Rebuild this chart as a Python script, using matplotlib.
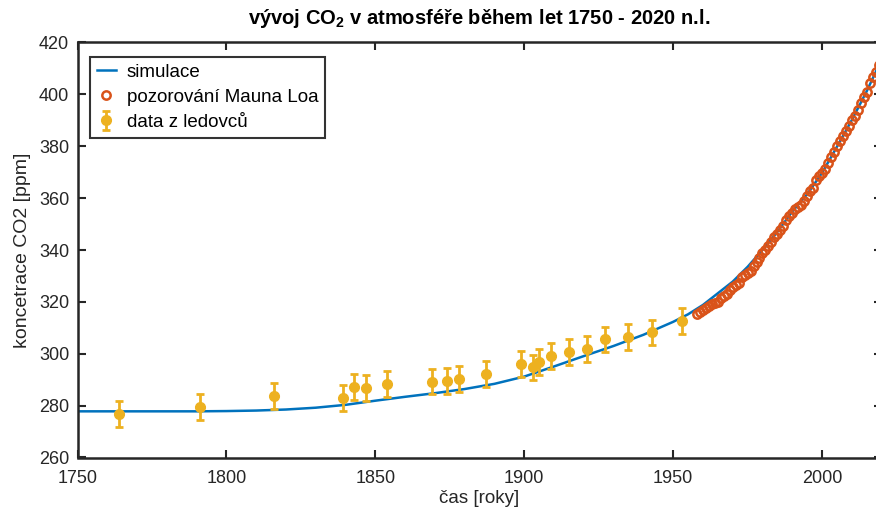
import matplotlib
matplotlib.use("Agg")
import matplotlib.pyplot as plt
from matplotlib import font_manager

# --- data -------------------------------------------------------------------
# simulated CO2 concentration [ppm]
sim_years = [1750, 1760, 1770, 1780, 1790, 1800, 1810, 1820, 1830, 1840,
             1850, 1860, 1870, 1880, 1890, 1900, 1910, 1920, 1930, 1940,
             1950, 1955, 1960, 1965, 1970, 1975, 1980, 1985, 1990, 1995,
             2000, 2005, 2010, 2015, 2020]
sim_ppm = [277.8, 277.8, 277.8, 277.8, 277.8, 277.9, 278.1, 278.5, 279.2, 280.3,
           281.9, 283.4, 284.8, 286.4, 288.4, 291.2, 295.1, 299.1, 303.0, 307.3,
           312.3, 315.2, 318.8, 323.3, 327.8, 333.5, 340.0, 347.0, 354.8, 361.5,
           369.7, 379.8, 390.1, 401.2, 413.5]

# Mauna Loa annual means [ppm]
ml_years = list(range(1958, 2020))
ml_ppm = [315.30, 315.98, 316.91, 317.64, 318.45, 318.99, 319.62, 320.04, 321.37, 322.18,
          323.05, 324.62, 325.68, 326.32, 327.46, 329.68, 330.19, 331.12, 332.03, 333.84,
          335.41, 336.84, 338.76, 340.12, 341.48, 343.15, 344.85, 346.35, 347.61, 349.31,
          351.69, 353.20, 354.45, 355.70, 356.54, 357.21, 358.96, 360.97, 362.74, 363.88,
          366.84, 368.54, 369.71, 371.32, 373.45, 375.98, 377.70, 379.98, 382.09, 384.02,
          385.83, 387.64, 390.10, 391.85, 394.06, 396.74, 398.81, 401.01, 404.41, 406.76,
          408.72, 411.44]

# ice core measurements [ppm] with uncertainty
ice_years = [1764, 1791, 1816, 1839, 1843, 1847, 1854, 1869, 1874, 1878, 1887,
             1899, 1903, 1905, 1909, 1915, 1921, 1927, 1935, 1943, 1953]
ice_ppm = [276.7, 279.6, 283.7, 283.1, 287.3, 286.8, 288.4, 289.3, 289.5, 290.3, 292.2,
           296.0, 294.7, 296.9, 299.2, 300.5, 301.8, 305.5, 306.6, 308.2, 312.8]
ice_err = [5.0] * len(ice_years)

x_ticks = [1750, 1800, 1850, 1900, 1950, 2000]
y_ticks = [260, 280, 300, 320, 340, 360, 380, 400, 420]

# --- fonts --------------------------------------------------------------------
installed = {f.name for f in font_manager.fontManager.ttflist}
narrow = "Liberation Sans Narrow" if "Liberation Sans Narrow" in installed else "Liberation Sans"
regular = "Liberation Sans"
plt.rcParams["font.family"] = [narrow, "DejaVu Sans"]
plt.rcParams["mathtext.fontset"] = "custom"
plt.rcParams["mathtext.rm"] = narrow
plt.rcParams["mathtext.bf"] = narrow + ":bold"

BLUE = "#0072BD"
ORANGE = "#D95319"
YELLOW = "#EDB120"
DARK = "#262626"

fig = plt.figure(figsize=(8.76, 5.11), dpi=100)
ax = fig.add_axes([77.5 / 876, (511 - 457.5) / 511, (881.6 - 77.5) / 876, (457.5 - 42.5) / 511])

ax.plot(sim_years, sim_ppm, color=BLUE, lw=1.8, label="simulace", zorder=2)
ax.plot(ml_years, ml_ppm, linestyle="none", marker="o", ms=6, mew=1.8,
        mfc="none", mec=ORANGE, label="pozorování Mauna Loa", zorder=3)
ax.errorbar(ice_years, ice_ppm, yerr=ice_err, fmt="o", color=YELLOW, ms=7,
            elinewidth=2, capsize=3, capthick=2, label="data z ledovců", zorder=4)

ax.set_xlim(1750, 2020)
ax.set_ylim(260, 420)
ax.set_xticks(x_ticks)
ax.set_yticks(y_ticks)

for s in ax.spines.values():
    s.set_color(DARK)
    s.set_linewidth(1.8)
ax.tick_params(direction="in", length=6, width=1.5, colors=DARK, labelsize=13,
               top=True, right=True, labelcolor=DARK)
ax.tick_params(axis="x", pad=9)
ax.tick_params(axis="y", pad=6)

ax.set_xlabel("čas [roky]", fontsize=13.5, color=DARK, labelpad=2)
ax.set_ylabel("koncetrace CO2 [ppm]", fontsize=14, color=DARK, labelpad=6,
              family=[regular, "DejaVu Sans"])
ax.set_title(r"vývoj CO$_\mathbf{2}$ v atmosféře během let 1750 - 2020 n.l.",
             fontsize=14.5, fontweight="bold", color="black", pad=13)

leg = ax.legend(loc="upper left", bbox_to_anchor=(0.009, 0.978), fontsize=13.5,
                frameon=True, fancybox=False, edgecolor="black", handlelength=1.0,
                handletextpad=0.6, labelspacing=0.42, borderpad=0.35, borderaxespad=0.3)
leg.get_frame().set_linewidth(1.5)

fig.savefig("out.png", dpi=100)
